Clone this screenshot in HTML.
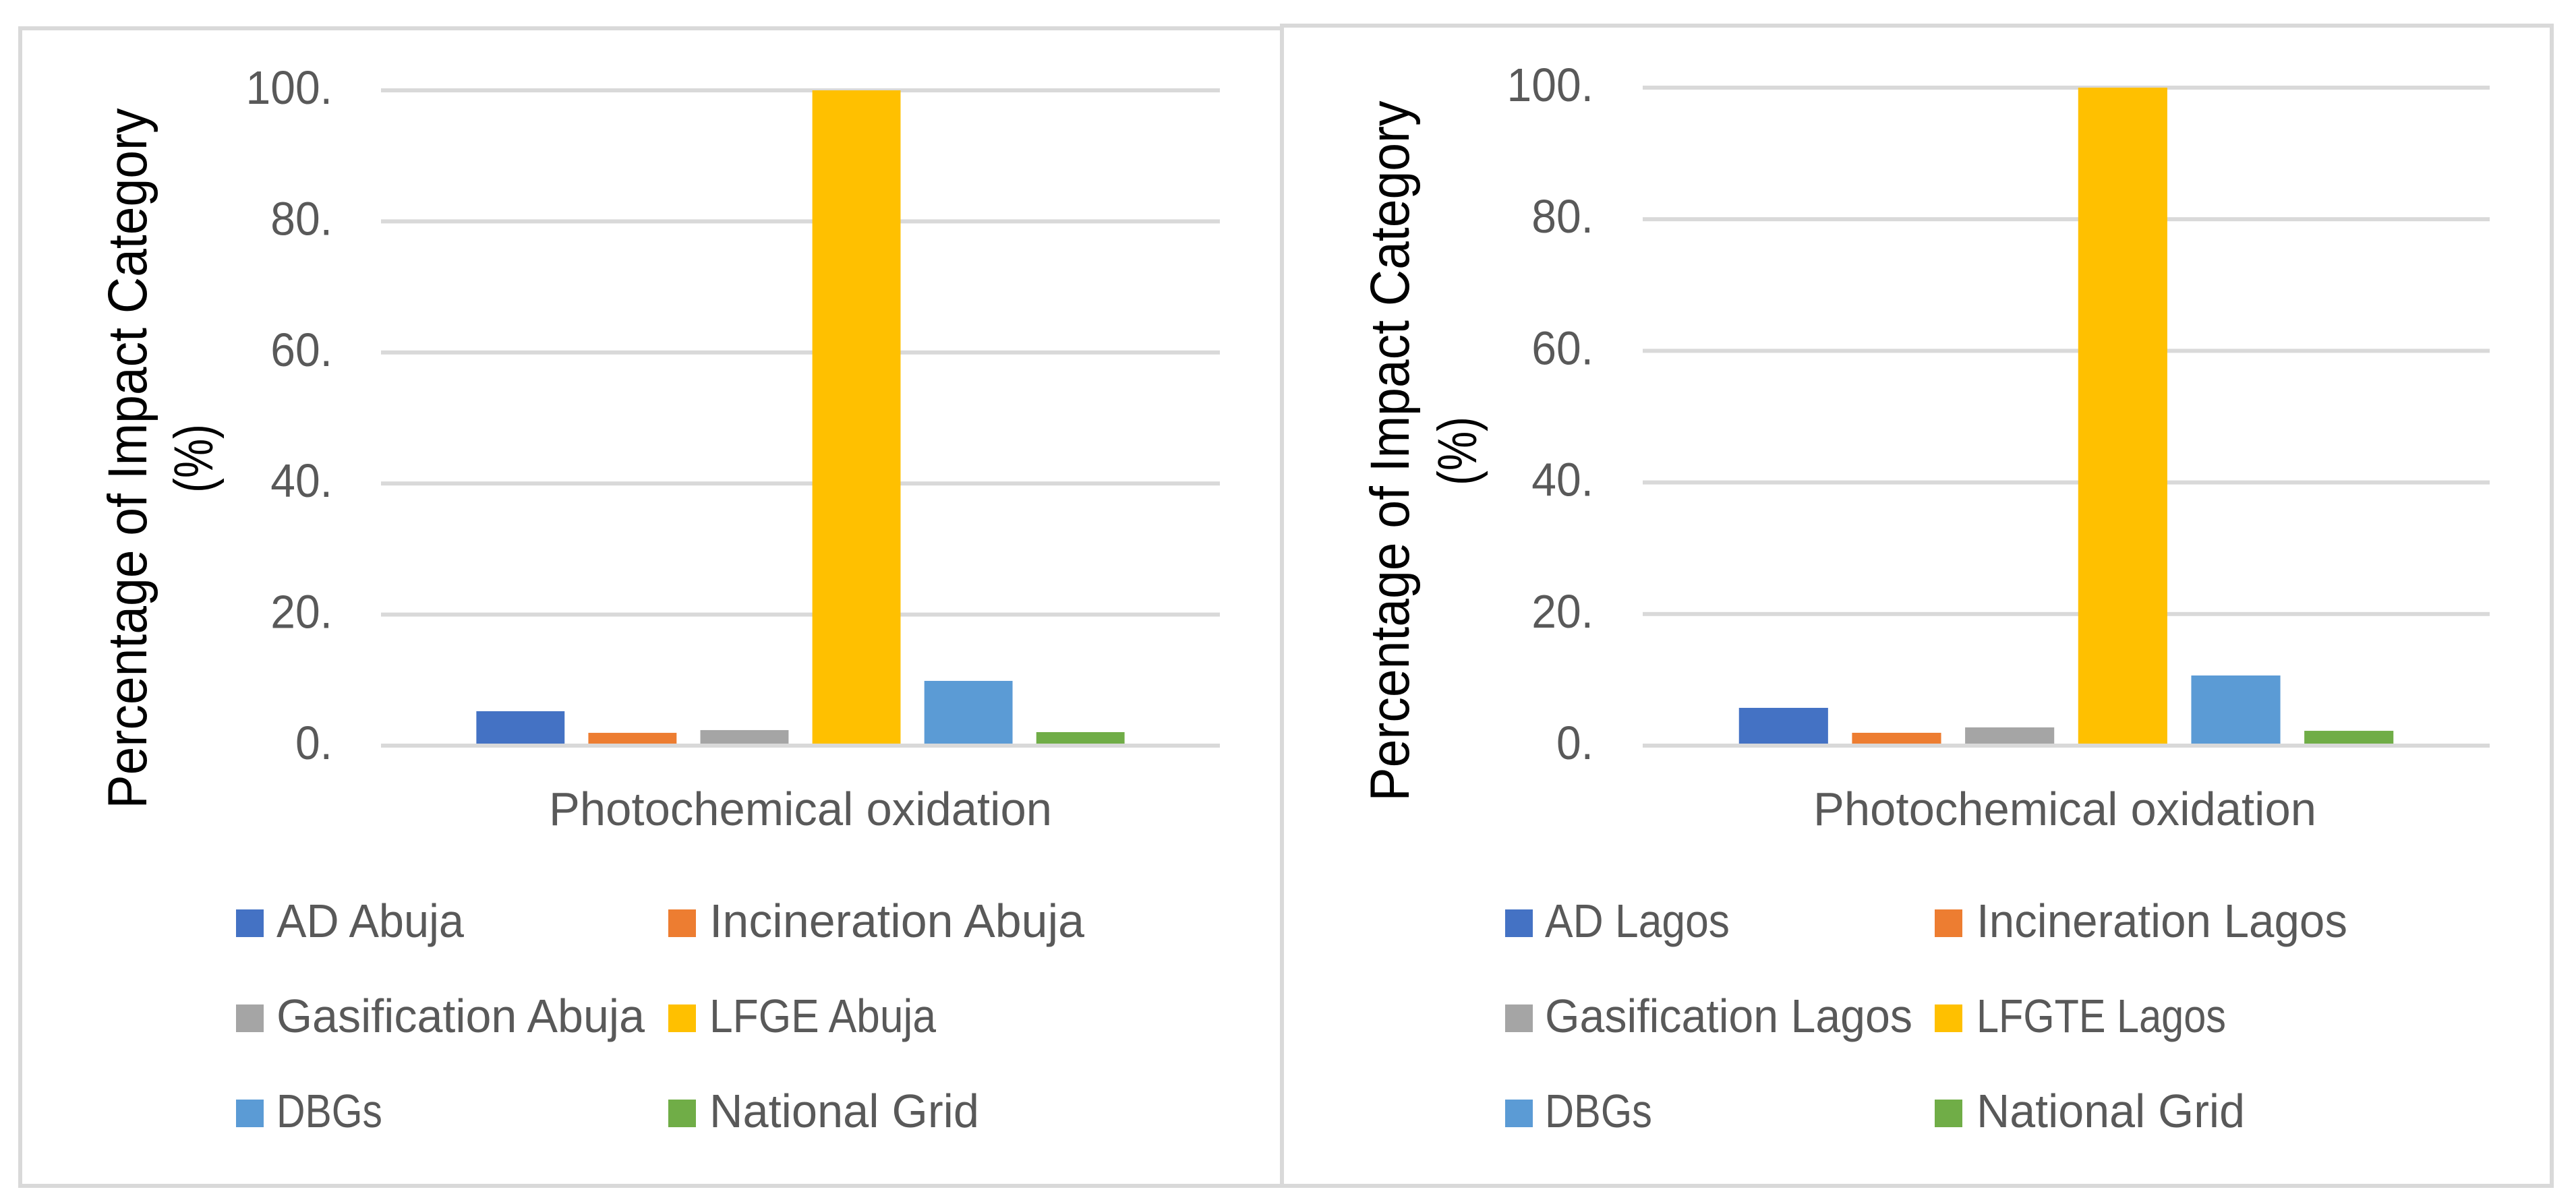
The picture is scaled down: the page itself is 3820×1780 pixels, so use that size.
<!DOCTYPE html>
<html lang="en">
<head>
<meta charset="utf-8">
<title>Percentage of Impact Category: Photochemical oxidation</title>
<style>
html,body{margin:0;padding:0;background:#fff;width:3820px;height:1780px;overflow:hidden}
svg{display:block}
text{font-family:"Liberation Sans",sans-serif}
.tick,.cat,.leg{fill:#595959;font-size:70px}
.ytitle{fill:#000;font-size:82px}
</style>
</head>
<body>
<svg id="root" xmlns="http://www.w3.org/2000/svg" width="3820" height="1780" viewBox="0 0 3820 1780">
  <rect x="0" y="0" width="3820" height="1780" fill="#fff"/>
  <g fill="#d9d9d9">
    <rect x="27" y="39" width="1877" height="6"/>
    <rect x="27" y="39" width="6" height="1723"/>
    <rect x="27" y="1756" width="1877" height="6"/>
  </g>
  <g fill="#d9d9d9">
    <rect x="1898" y="35" width="1889" height="6"/>
    <rect x="1898" y="35" width="6" height="1727"/>
    <rect x="3781" y="35" width="6" height="1727"/>
    <rect x="1898" y="1756" width="1889" height="6"/>
  </g>
  <g id="chart-abuja"></g>
  <g id="chart-lagos"></g>
</svg>
<script>
const tickValues = [0, 20, 40, 60, 80, 100];
const tickLabels = ["0.", "20.", "40.", "60.", "80.", "100."];
const categoryLabel = "Photochemical oxidation";
const yTitleLine1 = "Percentage of Impact Category";
const yTitleLine2 = "(%)";
const abujaSeries = ["AD Abuja", "Incineration Abuja", "Gasification Abuja", "LFGE Abuja", "DBGs", "National Grid"];
const abujaValues = [5.25, 1.95, 2.37, 100, 9.88, 2.06];
const lagosSeries = ["AD Lagos", "Incineration Lagos", "Gasification Lagos", "LFGTE Lagos", "DBGs", "National Grid"];
const lagosValues = [5.74, 1.95, 2.77, 100, 10.66, 2.25];

const seriesColors = ["#4472C4", "#ED7D31", "#A5A5A5", "#FFC000", "#5B9BD5", "#70AD47"];
const layoutAbuja = {
  left: 565, right: 1809, top: 134, bottom: 1106, tickX: 493,
  titleX: 217, title2X: 315, titleY: 680,
  catX: 814, catW: 746,
  swatchX: [350, 991], textX: [410, 1052],
  legW: [278, 556, 546, 336, 157, 400]
};
const layoutLagos = {
  left: 2436, right: 3692, top: 130, bottom: 1106, tickX: 2363,
  titleX: 2089, title2X: 2189, titleY: 669,
  catX: 2689, catW: 746,
  swatchX: [2232, 2869], textX: [2291, 2931],
  legW: [274, 550, 545, 370, 159, 398]
};
const legendRowBaselines = [1390, 1531, 1672];
const tickSqueeze = 66 / 70;
const NS = "http://www.w3.org/2000/svg";

function drawChart(hostId, prefix, names, values, L) {
  const host = document.getElementById(hostId);
  const w = L.right - L.left;
  const axisMax = tickValues[tickValues.length - 1];
  const yScale = v => L.bottom - (v / axisMax) * (L.bottom - L.top);
  const barW = w * 0.1052;
  const step = w * 0.1335;
  const groupW = step * (values.length - 1) + barW;
  const xScale = i => (L.left + L.right) / 2 - groupW / 2 + i * step;

  tickValues.forEach((t, i) => {
    const el = document.createElementNS(NS, "rect");
    
    
    el.setAttribute("x", L.left);
    el.setAttribute("y", yScale(t) - 3);
    el.setAttribute("width", w);
    el.setAttribute("height", 6);
    el.setAttribute("fill", "#d9d9d9");
    host.appendChild(el);

    const lb = document.createElementNS(NS, "text");
    
    
    lb.setAttribute("class", "tick");
    lb.setAttribute("x", L.tickX);
    lb.setAttribute("y", yScale(t) + 20);
    lb.setAttribute("text-anchor", "end");
    lb.textContent = tickLabels[i];
    host.appendChild(lb);
    lb.setAttribute("textLength", lb.getComputedTextLength() * tickSqueeze);
    lb.setAttribute("lengthAdjust", "spacingAndGlyphs");
  });

  values.forEach((v, i) => {
    const bar = document.createElementNS(NS, "rect");
    
    
    bar.setAttribute("x", xScale(i));
    bar.setAttribute("y", yScale(v));
    bar.setAttribute("width", barW);
    bar.setAttribute("height", yScale(0) - yScale(v));
    bar.setAttribute("fill", seriesColors[i]);
    host.appendChild(bar);
  });

  const axis = document.createElementNS(NS, "rect");
  
  
  axis.setAttribute("x", L.left);
  axis.setAttribute("y", yScale(0) - 3);
  axis.setAttribute("width", w);
  axis.setAttribute("height", 6);
  axis.setAttribute("fill", "#d9d9d9");
  host.appendChild(axis);

  const cat = document.createElementNS(NS, "text");
  
  
  cat.setAttribute("class", "cat");
  cat.setAttribute("x", L.catX);
  cat.setAttribute("y", 1224);
  cat.setAttribute("textLength", L.catW);
  cat.setAttribute("lengthAdjust", "spacingAndGlyphs");
  cat.textContent = categoryLabel;
  host.appendChild(cat);

  const t1 = document.createElementNS(NS, "text");
  
  
  t1.setAttribute("class", "ytitle");
  t1.setAttribute("text-anchor", "middle");
  t1.setAttribute("transform", "translate(" + L.titleX + "," + L.titleY + ") rotate(-90)");
  t1.setAttribute("textLength", 1039);
  t1.setAttribute("lengthAdjust", "spacingAndGlyphs");
  t1.textContent = yTitleLine1;
  host.appendChild(t1);

  const t2 = document.createElementNS(NS, "text");
  
  
  t2.setAttribute("class", "ytitle");
  t2.setAttribute("text-anchor", "middle");
  t2.setAttribute("transform", "translate(" + L.title2X + "," + L.titleY + ") rotate(-90)");
  t2.setAttribute("textLength", 102);
  t2.setAttribute("lengthAdjust", "spacingAndGlyphs");
  t2.textContent = yTitleLine2;
  host.appendChild(t2);

  names.forEach((name, i) => {
    const col = i % 2;
    const base = legendRowBaselines[Math.floor(i / 2)];

    const sw = document.createElementNS(NS, "rect");
    
    
    sw.setAttribute("x", L.swatchX[col]);
    sw.setAttribute("y", base - 41);
    sw.setAttribute("width", 41);
    sw.setAttribute("height", 41);
    sw.setAttribute("fill", seriesColors[i]);
    host.appendChild(sw);

    const tx = document.createElementNS(NS, "text");
    
    
    tx.setAttribute("class", "leg");
    tx.setAttribute("x", L.textX[col]);
    tx.setAttribute("y", base);
    tx.setAttribute("textLength", L.legW[i]);
    tx.setAttribute("lengthAdjust", "spacingAndGlyphs");
    tx.textContent = name;
    host.appendChild(tx);
  });
}

drawChart("chart-abuja", "abuja", abujaSeries, abujaValues, layoutAbuja);
drawChart("chart-lagos", "lagos", lagosSeries, lagosValues, layoutLagos);
</script>
</body>
</html>
